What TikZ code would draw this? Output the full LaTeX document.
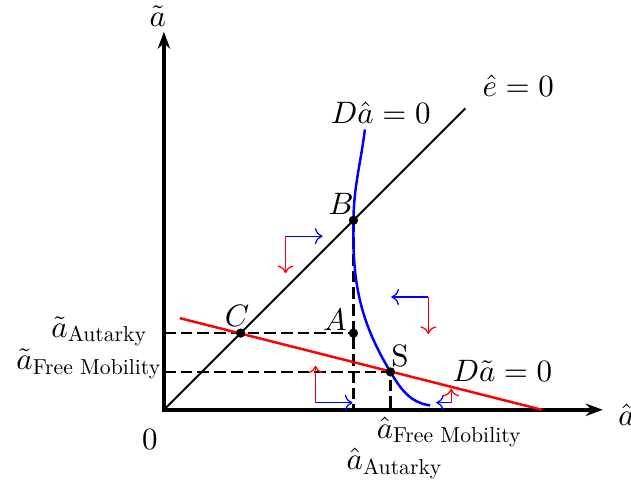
\documentclass[tikz,border=0pt]{standalone}
\usepackage{amsmath}
\usetikzlibrary{arrows.meta}

\newcommand{\sublab}[1]{\mbox{\scalebox{0.7}{#1}}}

\begin{document}
\begin{tikzpicture}[
    axis/.style={very thick, {Stealth[length=5.5pt,width=4pt]}-{Stealth[length=5.5pt,width=4pt]}},
    guide/.style={thick, dash pattern=on 3.8pt off 1.6pt},
    phase/.style={->},
    dot/.style={fill=black}
]
\useasboundingbox (-1.86,-0.86) rectangle (5.30,4.65);

% Points of the diagram
\coordinate (O) at (0,0);
\coordinate (B) at (2.15,2.15);
\coordinate (A) at (2.15,0.87);
\coordinate (C) at (0.87,0.87);
\coordinate (S) at (2.57,0.43);

% Axes
\coordinate (xend) at (4.98,0);
\coordinate (yend) at (0,4.29);
\draw[axis] (yend) -- (O) -- (xend);
\node (xlab) at (5.25,-0.06) {$\hat a$};
\node (ylab) at (-0.07,4.47) {$\tilde a$};
\node (zero) at (-0.16,-0.34) {$0$};

% Guide lines
\draw[guide] (A -| O) -- (A);
\draw[guide] (B) -- (B |- O);
\draw[guide] (S -| O) -- (S) -- (S |- O);

% Loci
\coordinate (eend) at (3.42,3.42);
\draw[semithick] (O) -- (eend);
\node (elab) at (4.02,3.68) {$\hat e = 0$};

\coordinate (rstart) at (0.18,1.04);
\coordinate (rend)   at (4.29,0);
\draw[red, thick] (rstart) -- (rend);
\node (Dtlab) at (3.84,0.44) {$D\tilde a = 0$};

\coordinate (Dtop) at (2.28,3.18);
\coordinate (Dend) at (3.02,0.05);
\draw[blue, thick] (Dtop) to[out=-97,in=89] (B)
    to[out=-91,in=121] (S) to[out=-59,in=172] (Dend);
\node (Dlab) at (2.46,3.37) {$D\hat a = 0$};

% Phase arrows
\coordinate (p1) at (1.38,1.97);
\coordinate (p2) at (3.00,1.28);
\coordinate (p3) at (1.72,0.08);
\coordinate (p4) at (3.26,0.08);
\draw[phase, blue] (p1) -- ++(0.42,0);
\draw[phase, red]  (p1) -- ++(0,-0.42);
\draw[phase, blue] (p2) -- ++(-0.42,0);
\draw[phase, red]  (p2) -- ++(0,-0.42);
\draw[phase, blue] (p3) -- ++(0.42,0);
\draw[phase, red]  (p3) -- ++(0,0.42);
\draw[phase, blue] (p4) -- ++(-0.17,0);
\draw[phase, red]  (p4) -- ++(0,0.16);

% Dots and labels
\foreach \p in {A,B,C,S}
    \fill[dot] (\p) circle (1.5pt);
\node (labB) at (2.01,2.34) {$B$};
\node (labA) at (1.94,1.02) {$A$};
\node (labC) at (0.83,1.07) {$C$};
\node (labS) at (2.68,0.61) {S};

\node[anchor=east] (aA) at (-0.06,0.89) {$\tilde a_{\sublab{Autarky}}$};
\node[anchor=east] (aF) at (0.10,0.52) {$\tilde a_{\sublab{Free Mobility}}$};
\node (hF) at (3.24,-0.25) {$\hat a_{\sublab{Free Mobility}}$};
\node (hA) at (2.62,-0.61) {$\hat a_{\sublab{Autarky}}$};

\end{tikzpicture}
\end{document}
